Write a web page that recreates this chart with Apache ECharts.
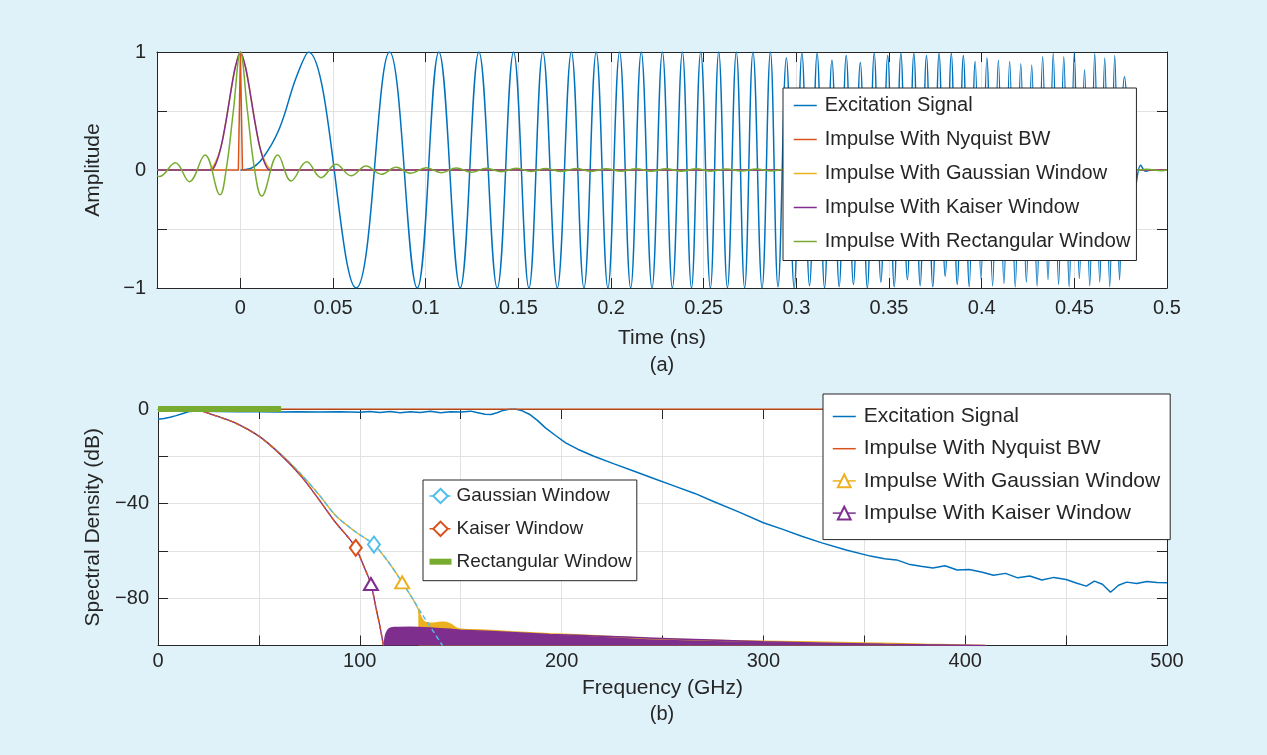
<!DOCTYPE html>
<html><head><meta charset="utf-8">
<script src="https://cdn.jsdelivr.net/npm/echarts@6/dist/echarts.min.js"></script>
<style>html,body{margin:0;padding:0;background:#dff1f9;}#c{width:1267px;height:755px;}</style>
</head><body><div id="c"></div>
<script>
// ---------- DATA ----------
const timeTicks = [0, 0.05, 0.1, 0.15, 0.2, 0.25, 0.3, 0.35, 0.4, 0.45, 0.5];

// (a) time domain: [time ns, amplitude]
const excitationTime = [
[0,0],[0.005,0.01],[0.012,0.1],[0.021,0.35],[0.03,0.78],[0.0367,1],
[0.0625,-1],[0.0805,1],[0.0954,-1],[0.1071,1],[0.1186,-1],[0.1287,1],[0.1386,-1],[0.1474,1],[0.1557,-1],[0.1632,1],
[0.171,-1],[0.1786,1],[0.1854,-1],[0.192,1],[0.1983,-1],[0.2046,1],[0.2106,-1],[0.2163,1],[0.2221,-1],[0.2277,1],
[0.2331,-1],[0.2385,1],[0.2434,-1],[0.2484,1],[0.2536,-1],[0.2581,1],[0.2628,-1],[0.2676,1],[0.2721,-1],[0.2766,1],
[0.2815,-1],[0.286,1],[0.2901,-0.99],[0.2946,0.95],
[0.2988,-1],[0.303,0.99],[0.3071,-0.98],[0.3112,0.99],[0.3152,-1],[0.3192,0.93],[0.3231,-0.99],[0.3269,0.97],[0.3308,-0.97],[0.3345,0.91],
[0.3383,-1],[0.342,0.99],[0.3456,-0.95],[0.3493,0.97],[0.3528,-0.99],[0.3564,0.99],[0.3599,-0.93],[0.3634,0.99],[0.3668,-0.98],[0.3702,0.97],
[0.3736,-0.99],[0.377,0.99],[0.3803,-0.9],[0.3836,0.99],[0.3868,-0.97],[0.3901,0.97],[0.3933,-0.99],[0.3965,0.92],[0.3996,-0.92],[0.4028,0.95],
[0.4059,-0.98],[0.409,0.93],[0.412,-0.96],[0.4151,0.92],[0.4181,-0.99],[0.4211,0.9],[0.4241,-0.95],[0.427,0.89],[0.4299,-0.98],[0.4329,0.96],
[0.4358,-0.93],[0.4386,0.99],[0.4415,-0.97],[0.4443,0.96],[0.4472,-0.99],[0.45,1],[0.4527,-0.92],[0.4555,0.85],[0.4583,-0.98],[0.461,0.99],
[0.4637,-0.95],[0.4664,0.95],[0.4691,-0.99],[0.4718,0.97],[0.4744,-0.93],[0.4771,0.79],
[0.4828,-0.16],[0.4858,0.04],[0.4885,-0.01],[0.492,0],[0.5,0]
];
const nyquistTime = [[-0.045,0],[-0.0011,0],[0,1],[0.0011,0],[0.5,0]];
const gaussianTime = [[-0.045,0],[-0.0175,0],[-0.014,0.05],[-0.0104,0.2],[-0.0077,0.42],[-0.005,0.68],[-0.0027,0.875],[0,1],
[0.0027,0.875],[0.005,0.68],[0.0077,0.42],[0.0104,0.2],[0.014,0.05],[0.0175,0],[0.5,0]];
const kaiserTime = [[-0.045,0],[-0.0158,0],[-0.0131,0.06],[-0.0104,0.2],[-0.0077,0.42],[-0.005,0.68],[-0.0027,0.875],[0,1],
[0.0027,0.875],[0.005,0.68],[0.0077,0.42],[0.0104,0.2],[0.0131,0.06],[0.0158,0],[0.5,0]];
const rectangularTime = [
[-0.045,-0.05],[-0.0437,-0.055],[-0.0351,0.062],[-0.0275,-0.099],[-0.0191,0.127],[-0.011,-0.21],[-0.0077,0],[-0.0038,0.5],[0,1],
[0.0038,0.5],[0.0077,0],[0.0115,-0.22],[0.0202,0.127],[0.0274,-0.093],[0.0358,0.07],[0.0435,-0.065],[0.0516,0.048],[0.0597,-0.048],
[0.0678,0.034],[0.076,-0.036],[0.084,0.023],[0.092,-0.028],[0.1003,0.02],[0.1084,-0.023],[0.1165,0.017],[0.1246,-0.02],[0.1327,0.014],
[0.1408,-0.015],[0.1489,0.014],[0.157,-0.012],[0.165,0.012],[0.1731,-0.013],[0.1812,0.012],[0.1893,-0.012],[0.1974,0.011],[0.2055,-0.011],
[0.2136,0.011],[0.2217,-0.01],[0.2298,0.01],[0.2379,-0.01],[0.246,0.01],[0.2541,-0.01],[0.2622,0.009],[0.2703,-0.009],[0.2784,0.009],
[0.2865,-0.009],[0.2946,0.009],[0.3027,-0.009],[0.3108,0.008],[0.3189,-0.008],[0.327,0.008],[0.3351,-0.008],[0.3432,0.008],[0.3513,-0.008],
[0.3594,0.008],[0.3675,-0.008],[0.3756,0.007],[0.3837,-0.007],[0.3918,0.007],[0.3999,-0.007],[0.408,0.007],[0.4161,-0.007],[0.4242,0.007],
[0.4323,-0.007],[0.4404,0.006],[0.4485,-0.006],[0.4566,0.006],[0.4647,-0.006],[0.4728,0.006],[0.4809,-0.006],[0.489,0.006],[0.4971,-0.006],[0.5,0]
];

// (b) spectral density: [frequency GHz, dB]
const excitationSpec = [
[0,-4.3],[3,-4.0],[6,-3.5],[9,-2.8],[12,-2.0],[15,-1.2],[18,-0.8],[22,-0.9],[30,-1.1],[40,-1.2],[50,-1.2],[60,-1.3],[70,-1.2],
[80,-1.3],[90,-1.2],[100,-1.4],[105,-1.1],[110,-1.5],[115,-1.1],[120,-1.6],[125,-1.2],[130,-1.5],[135,-1.0],[140,-1.6],[145,-1.2],
[150,-1.3],[155,-0.9],[158,-1.5],[162,-2.2],[165,-2.3],[168,-1.6],[171,-0.6],[174,-0.1],[177,0],[180,-0.6],[184,-2.2],[188,-4.8],
[192,-8],[197,-11.2],[202,-14.3],[208,-17],[216,-20],[226,-23.2],[236,-26.3],[246,-29.5],[256,-32.6],[266,-35.7],[275,-39],
[288,-43.6],[300,-48.1],[310,-51],[319,-53.8],[329,-56.6],[341,-59.6],[353,-62.2],[360,-63.3],[366,-63.8],[372,-65.6],[378,-66.5],
[384,-67.2],[390,-66.3],[396,-68.1],[402,-67.9],[408,-68.9],[414,-70.3],[420,-69.5],[426,-71.4],[432,-70.6],[438,-72.3],[444,-71.2],
[450,-72.1],[455,-73.6],[460,-74.9],[464,-72.8],[468,-74.1],[472,-77.5],[476,-74.5],[480,-73.2],[485,-73.8],[490,-72.9],[495,-73.4],[500,-73.5]
];
const nyquistSpec = [[0,0],[500,0]];
const gaussianImpulseSpec = [[0,-0.5],[8,-0.2],[17,0],[28,-2.7],[38,-5.8],[50,-11.5],[61,-19.2],[71,-27.7],[80,-36.5],[88,-45],
[98,-52],[107,-57.3],[114,-64.5],[121,-73.3],[126,-80],[130,-86.5]];
const gaussianFloorSpec = [[129,-85.5],[131.6,-89.7],[134,-90.5],[137,-90.6],[140,-90.2],[142,-90.2],[145,-91],[149,-93],
[160,-93.4],[175,-94.2],[194,-95],[220,-96],[243,-97],[270,-97.7],[300,-98.2],[350,-98.9],[380,-99.5],[410,-100]];
const kaiserImpulseSpec = [[0,-0.5],[8,-0.2],[17,0],[28,-2.7],[38,-5.8],[50,-11.5],[61,-19.5],[71,-28.5],[79.5,-38],[88,-48],
[94,-54],[98,-58.7],[102,-66.5],[105.5,-74],[108,-84],[110,-92],[111.7,-100]];
const kaiserFloorSpec = [[112,-100],[113,-95],[114.5,-93],[117,-92.4],[125,-92.3],[135,-92.6],[150,-93.5],[175,-94.5],[194,-95.3],
[220,-96.1],[243,-96.8],[270,-97.6],[300,-98.4],[330,-99],[360,-99.5],[390,-99.8],[410,-100]];
const gaussianWindowSpec = [[0,-0.6],[8,-0.2],[17,0],[28,-2.7],[38,-5.8],[50,-11.5],[61,-19.2],[71,-27.7],[80,-36.5],[88,-45],
[98,-52],[107,-57.3],[114,-64.5],[121,-73.3],[126,-80],[131,-87],[136,-93.5],[141,-100]];
const kaiserWindowSpec = [[0,-0.6],[8,-0.2],[17,0],[28,-2.7],[38,-5.8],[50,-11.5],[61,-19.5],[71,-28.5],[79.5,-38],[88,-48],
[94,-54],[98,-58.7],[102,-66.5],[105.5,-74],[108,-84],[110,-92],[111.7,-100]];
const rectangularSpec = [[0,0],[61,0]];

// frequencies where a single marker is drawn
const markGaussImpulse = 121, markKaiserImpulse = 105.5, markGaussWindow = 107, markKaiserWindow = 98;

// ---------- STYLE ----------
const FONT = 'Liberation Sans, Arial, Helvetica, sans-serif';
const INK = '#262626';
const GRIDC = '#e2e2e2';
const C = {blue:'#0072BD', orange:'#D95319', yellow:'#EDB120', purple:'#7E2F8E', green:'#77AC30', cyan:'#4DBEEE'};
const minus = s => s.replace('-', '\u2212');

function axisBase(gridIndex, pos, min, max) {
  return {
    gridIndex, type:'value', position:pos, min, max,
    axisLine:{show:true, onZero:false, lineStyle:{color:INK, width:1}},
    axisTick:{show:true, inside:true, length:10, lineStyle:{color:INK, width:1}},
    axisLabel:{show:false}, splitLine:{show:false}
  };
}
const xTop0 = axisBase(0,'bottom',-0.045,0.5);
xTop0.axisTick.customValues = timeTicks;
xTop0.axisLabel = {show:true, customValues:timeTicks, formatter:v=>String(+(+v).toFixed(2)), fontSize:20, color:INK, fontFamily:FONT, margin:10};
xTop0.splitLine = {show:true, lineStyle:{color:GRIDC, width:1}};
Object.assign(xTop0, {name:'Time (ns)', nameLocation:'middle', nameGap:40, nameTextStyle:{fontSize:21, color:INK, fontFamily:FONT}});
const xTop1 = axisBase(0,'top',-0.045,0.5);
xTop1.axisTick.customValues = timeTicks;

const yTop0 = axisBase(0,'left',-1,1);
yTop0.interval = 0.5;
yTop0.axisLabel = {show:true, formatter:v=> (v===1?'1':v===0?'0':v===-1?'\u22121':''), fontSize:20, color:INK, fontFamily:FONT, margin:11};
yTop0.splitLine = {show:true, lineStyle:{color:GRIDC, width:1}};
Object.assign(yTop0, {name:'Amplitude', nameLocation:'middle', nameGap:53, nameTextStyle:{fontSize:21, color:INK, fontFamily:FONT}});
const yTop1 = axisBase(0,'right',-1,1); yTop1.interval = 0.5;

const xBot0 = axisBase(1,'bottom',0,500);
xBot0.interval = 50;
xBot0.axisLabel = {show:true, formatter:v=> (v%100===0?String(v):''), fontSize:20, color:INK, fontFamily:FONT, margin:6};
xBot0.splitLine = {show:true, lineStyle:{color:GRIDC, width:1}};
Object.assign(xBot0, {name:'Frequency (GHz)', nameLocation:'middle', nameGap:32, nameTextStyle:{fontSize:21, color:INK, fontFamily:FONT}});
const xBot1 = axisBase(1,'top',0,500); xBot1.interval = 50;

const yBot0 = axisBase(1,'left',-100,0);
yBot0.interval = 20;
yBot0.axisLabel = {show:true, formatter:v=> (v%40===0 ? (v===0?'0':minus(String(v))) : ''), fontSize:20, color:INK, fontFamily:FONT, margin:9};
yBot0.splitLine = {show:true, lineStyle:{color:GRIDC, width:1}};
Object.assign(yBot0, {name:'Spectral Density (dB)', nameLocation:'middle', nameGap:53, nameTextStyle:{fontSize:21, color:INK, fontFamily:FONT}});
const yBot1 = axisBase(1,'right',-100,0); yBot1.interval = 20;

function lineSeries(name, data, color, axis, extra) {
  return Object.assign({
    name, type:'line', data, xAxisIndex:axis, yAxisIndex:axis,
    symbol:'none', showSymbol:false, animation:false, silent:true,
    lineStyle:{color, width:1.5}, itemStyle:{color}, emphasis:{disabled:true}, z:2
  }, extra || {});
}
function markerAt(data, f, size) {
  const idx = data.findIndex(p => p[0] === f);
  return (v, p) => (p.dataIndex === idx ? size : 0);
}
function markedLine(name, data, color, symbol, f, size, dashed, smooth) {
  return lineSeries(name, data, color, 2, {
    symbol, showSymbol:true, showAllSymbol:true, symbolSize:markerAt(data, f, size),
    itemStyle:{color, borderWidth:1.4},
    lineStyle:{color, width:1.4, type: dashed ? [5,3] : 'solid'},
    smooth: smooth
  });
}

const series = [
  lineSeries('Excitation Signal', excitationTime, C.blue, 0, {smooth:0.4}),
  lineSeries('Impulse With Nyquist BW', nyquistTime, C.orange, 0),
  lineSeries('Impulse With Gaussian Window', gaussianTime, C.yellow, 0, {smooth:0.3}),
  lineSeries('Impulse With Kaiser Window', kaiserTime, C.purple, 0, {smooth:0.3}),
  lineSeries('Impulse With Rectangular Window', rectangularTime, C.green, 0, {smooth:0.4}),

  lineSeries('b:Excitation Signal', excitationSpec, C.blue, 2),
  lineSeries('b:Impulse With Nyquist BW', nyquistSpec, C.orange, 2),
  lineSeries('gaussFloor', gaussianFloorSpec, C.yellow, 2, {smooth:0.3, areaStyle:{color:C.yellow, opacity:1, origin:'start'}}),
  markedLine('b:Impulse With Gaussian Window', gaussianImpulseSpec, C.yellow, 'emptyTriangle', markGaussImpulse, [14,12], false, 0.3),
  lineSeries('kaiserFloor', kaiserFloorSpec, C.purple, 2, {smooth:0.3, areaStyle:{color:C.purple, opacity:1, origin:'start'}}),
  markedLine('b:Impulse With Kaiser Window', kaiserImpulseSpec, C.purple, 'emptyTriangle', markKaiserImpulse, [14,12], false, 0.3),
  markedLine('Gaussian Window', gaussianWindowSpec, C.cyan, 'emptyDiamond', markGaussWindow, [12,16], true, 0.3),
  markedLine('Kaiser Window', kaiserWindowSpec, C.orange, 'emptyDiamond', markKaiserWindow, [12,16], true, 0.3),
  lineSeries('Rectangular Window', rectangularSpec, C.green, 2, {lineStyle:{color:C.green, width:6}})
];

const noSym = {opacity:0};
const legendText = (size, pad) => ({fontSize:size, color:INK, fontFamily:FONT, lineHeight:24, padding:pad});
const legendBox = {backgroundColor:'#fff', borderColor:INK, borderWidth:1, borderRadius:0, selectedMode:false, orient:'vertical'};
const legends = [
  Object.assign({
   data:['Excitation Signal','Impulse With Nyquist BW','Impulse With Gaussian Window','Impulse With Kaiser Window','Impulse With Rectangular Window']
     .map(n=>({name:n, itemStyle:noSym})),
   left:783, top:88, padding:[5.5,6,7,10], itemGap:10, itemWidth:23, itemHeight:14,
   textStyle:legendText(20,[0,0,0,3]), lineStyle:{width:1.5}}, legendBox),
  Object.assign({
   data:[{name:'b:Excitation Signal', itemStyle:noSym},{name:'b:Impulse With Nyquist BW', itemStyle:noSym},'b:Impulse With Gaussian Window','b:Impulse With Kaiser Window'],
   formatter:n=>n.replace(/^b:/,''),
   left:823, top:394, padding:[10.5,10,14.5,9], itemGap:8.2, itemWidth:23, itemHeight:16,
   textStyle:legendText(21,[0,0,0,3]), lineStyle:{width:1.5}}, legendBox),
  Object.assign({
   data:['Gaussian Window','Kaiser Window',{name:'Rectangular Window', lineStyle:{width:6}, itemStyle:noSym}],
   left:423, top:480, padding:[4,5,7,3.5], itemGap:8.85, itemWidth:22, itemHeight:18,
   textStyle:legendText(19,0), lineStyle:{width:1.5}}, legendBox)
];

const chart = echarts.init(document.getElementById('c'), null, {renderer:'canvas'});
chart.setOption({
  backgroundColor:'#dff1f9',
  animation:false,
  textStyle:{fontFamily:FONT},
  grid:[
    {left:157, top:52, width:1010, height:236, backgroundColor:'#fff', show:true, borderWidth:0, outerBoundsMode:'none'},
    {left:158, top:409, width:1009, height:236.5, backgroundColor:'#fff', show:true, borderWidth:0, outerBoundsMode:'none'}
  ],
  xAxis:[xTop0, xTop1, xBot0, xBot1],
  yAxis:[yTop0, yTop1, yBot0, yBot1],
  legend:legends,
  series:series,
  graphic:[
    {type:'text', x:662, y:365, style:{text:'(a)', fontSize:20, fontFamily:FONT, fill:INK, align:'center', verticalAlign:'middle'}},
    {type:'text', x:662, y:714, style:{text:'(b)', fontSize:20, fontFamily:FONT, fill:INK, align:'center', verticalAlign:'middle'}}
  ]
});
</script></body></html>
